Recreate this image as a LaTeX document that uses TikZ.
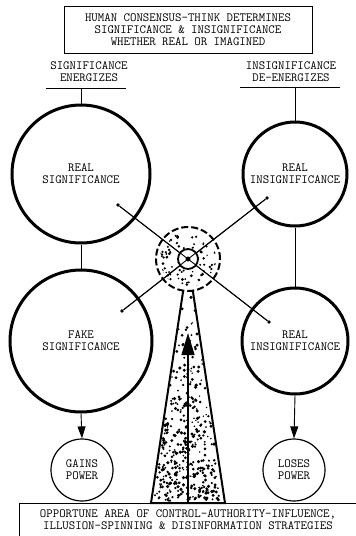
\documentclass[tikz,border=0pt]{standalone}
\usepackage{fontspec}
\usetikzlibrary{arrows.meta}

\begin{document}
\begin{tikzpicture}[x=1pt,y=-1pt]
      \tikzset{
        caption/.style={font=\ttfamily\fontsize{12.5}{12}\selectfont, align=center, inner sep=0pt},
        bigring/.style={circle, draw, line width=3pt, caption},
        smallring/.style={circle, draw, line width=1.2pt, caption, minimum size=62pt},
        feed/.style={line width=0.9pt},
        fall/.style={line width=0.9pt, -{Triangle[length=12pt,width=8pt]}},
        pin/.style={circle, fill, inner sep=0pt, minimum size=3.6pt},
        speck/.style={fill=black}
      }
      \useasboundingbox (0,0) rectangle (356,536);
      \clip (0,0) rectangle (356,536);
      \fill[white] (0,0) rectangle (356,536);
      \pgfmathsetseed{4321}
      % headline
      \node[draw, line width=1pt, minimum width=248pt, minimum height=47pt, caption] (consensus) at (188,29.5)
        {HUMAN CONSENSUS-THINK DETERMINES\\SIGNIFICANCE \& INSIGNIFICANCE\\WHETHER REAL OR IMAGINED};
      \node[caption] (sighead) at (89,72) {SIGNIFICANCE\\ENERGIZES};
      \node[caption] (insighead) at (291,72) {INSIGNIFICANCE\\DE-ENERGIZES};
      \coordinate (sl) at (46,88);
      \coordinate (sr) at (126,88);
      \coordinate (sm) at (81,88);
      \coordinate (il) at (240,87);
      \coordinate (ir) at (340,87);
      \coordinate (im) at (295,87);
      % rings
      \node[bigring, minimum size=138pt] (realsig) at (81,174) {REAL\\SIGNIFICANCE};
      \node[bigring, minimum size=142pt] (fakesig) at (81,341) {FAKE\\SIGNIFICANCE};
      \node[bigring, minimum size=104pt] (realinsigA) at (295,174) {REAL\\INSIGNIFICANCE};
      \node[bigring, minimum size=106pt] (realinsigB) at (295,341) {REAL\\INSIGNIFICANCE};
      \node[smallring] (gains) at (82,470) {GAINS\\POWER};
      \node[smallring] (loses) at (294,470) {LOSES\\POWER};
      \draw[feed] (sl) -- (sr);
      \draw[feed] (sm) -- (realsig.north);
      \draw[feed] (il) -- (ir);
      \draw[feed] (im) -- (realinsigA.north);
      \draw[feed] (realsig.south) -- (fakesig.north);
      \draw[feed] (realinsigA.south) -- (realinsigB.north);
      \draw[fall] (fakesig.south) -- (gains.north);
      \draw[fall] (realinsigB.south) -- (loses.north);
      % cone
      \coordinate (hub) at (188,259);
      \coordinate (baseL) at (151,503);
      \coordinate (baseR) at (225,503);
      \coordinate (baseM) at (188,503);
      \coordinate (tip) at (188,333);
      \draw[line width=2pt, line join=miter] (hub) -- (baseL) -- (baseR) -- cycle;
      \foreach \i in {1,...,400}{
        \pgfmathsetmacro{\ct}{rnd^0.33}
        \pgfmathsetmacro{\cy}{259+242*\ct}
        \pgfmathsetmacro{\cx}{188+(2*rnd-1)*34*\ct}
        \pgfmathsetmacro{\dotr}{0.8+1.0*rnd}
        \fill[speck] (\cx,\cy) circle[radius=\dotr pt];
      }
      \draw[line width=1.5pt, -{Triangle[length=22pt,width=13pt]}] (baseM) -- (tip);
      % globe
      \fill[white] (188,259) circle[radius=32pt];
      \begin{scope}
        \clip (188,259) circle[radius=28pt];
        \foreach \i in {1,...,95}{
          \pgfmathsetmacro{\cx}{160+56*rnd}
          \pgfmathsetmacro{\cy}{231+56*rnd}
          \pgfmathsetmacro{\dotr}{0.8+0.8*rnd}
          \fill[speck] (\cx,\cy) circle[radius=\dotr pt];
        }
      \end{scope}
      \node[circle, draw, line width=2pt, dash pattern=on 7pt off 3pt, minimum size=64pt] (globe) at (hub) {};
      \node[pin] (d1) at (118,205) {};
      \node[pin] (d2) at (269,322) {};
      \node[pin] (d3) at (122,311) {};
      \node[pin] (d4) at (267,198) {};
      \draw[feed] (d1) -- (d2);
      \draw[feed] (d3) -- (d4);
      \node[circle, draw, fill=white, line width=1.8pt, minimum size=20pt] (eye) at (hub) {};
      \draw[feed] (eye.center) -- (d1);
      \draw[feed] (eye.center) -- (d2);
      \draw[feed] (eye.center) -- (d3);
      \draw[feed] (eye.center) -- (d4);
      \node[pin, minimum size=5pt] (pupil) at (hub) {};
      % footline
      \draw[line width=1pt] (19,503) rectangle (362,545);
      \node[caption] (opport) at (188,520)
        {OPPORTUNE AREA OF CONTROL-AUTHORITY-INFLUENCE,\\ILLUSION-SPINNING \& DISINFORMATION STRATEGIES};
    \end{tikzpicture}
\end{document}
